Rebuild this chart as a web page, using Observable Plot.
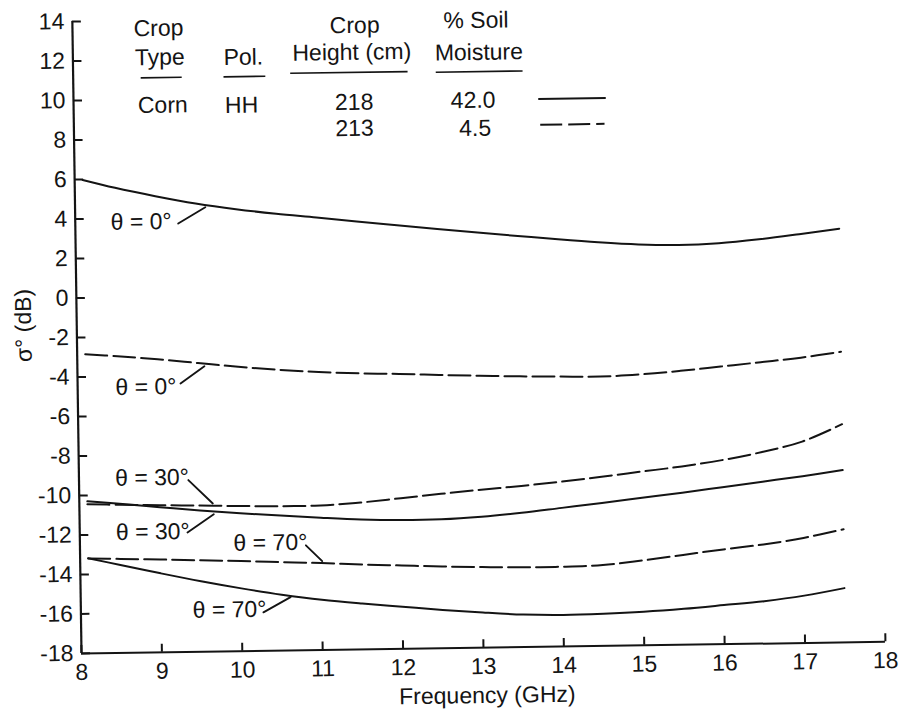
<!DOCTYPE html>
<html>
<head>
<meta charset="utf-8">
<script src="https://cdn.jsdelivr.net/npm/d3@7"></script>
<script src="https://cdn.jsdelivr.net/npm/@observablehq/plot@0.6"></script>
<style>
  html, body { margin: 0; padding: 0; background: #fff; }
  #chart svg { display: block; }
</style>
</head>
<body>
<div id="chart"></div>
<script>
// Backscatter of corn (HH polarization) versus frequency, for two soil moisture levels.
// Solid curves: 218 cm crop, 42.0 % soil moisture. Dashed curves: 213 cm crop, 4.5 % soil moisture.

const freqGHz = [8.1, 8.5, 9, 9.5, 10, 10.5, 11, 11.5, 12, 12.5, 13, 13.5, 14, 14.5, 15, 15.5, 16, 16.5, 17, 17.5];

// sigma-0 in dB, incidence angle 0°
const wet0 = [5.97, 5.55, 5.1, 4.7, 4.38, 4.12, 3.9, 3.67, 3.45, 3.23, 3.02, 2.82, 2.62, 2.44, 2.3, 2.24, 2.3, 2.47, 2.7, 2.95];
const dry0 = [-2.85, -2.98, -3.16, -3.38, -3.6, -3.78, -3.92, -4.02, -4.08, -4.16, -4.23, -4.29, -4.33, -4.36, -4.28, -4.13, -3.94, -3.75, -3.55, -3.28];
// incidence angle 30°
const wet30 = [-10.3, -10.45, -10.65, -10.85, -11.02, -11.16, -11.3, -11.42, -11.48, -11.47, -11.37, -11.2, -10.98, -10.76, -10.53, -10.3, -10.05, -9.8, -9.55, -9.27];
const dry30 = [-10.45, -10.5, -10.55, -10.6, -10.65, -10.69, -10.68, -10.56, -10.37, -10.18, -10.0, -9.84, -9.65, -9.43, -9.2, -8.97, -8.68, -8.3, -7.8, -6.95];
// incidence angle 70°
const wet70 = [-13.18, -13.55, -14.0, -14.43, -14.82, -15.17, -15.46, -15.68, -15.87, -16.06, -16.22, -16.35, -16.4, -16.37, -16.3, -16.18, -16.02, -15.85, -15.6, -15.25];
const dry70 = [-13.2, -13.24, -13.3, -13.37, -13.44, -13.52, -13.6, -13.7, -13.78, -13.86, -13.92, -13.96, -13.96, -13.9, -13.7, -13.45, -13.2, -12.98, -12.68, -12.27];

const xTicks = [8, 9, 10, 11, 12, 13, 14, 15, 16, 17, 18];
const yTicks = [14, 12, 10, 8, 6, 4, 2, 0, -2, -4, -6, -8, -10, -12, -14, -16, -18];

// Legend table contents
const cropType = "Corn";
const polarization = "HH";
const cropHeights = ["218", "213"];
const soilMoisture = ["42.0", "4.5"];

// Layout
const W = 902, H = 715;
const mL = 81, mR = 17, mT = 21, mB = 62;
const plotW = W - mL - mR, plotH = H - mT - mB;
const ink = "#141414";
const font = '"Liberation Sans", Arial, Helvetica, sans-serif';
const dash = "22,6";

const series = [
  {key: "wet0", values: wet0, dashed: false},
  {key: "dry0", values: dry0, dashed: true},
  {key: "wet30", values: wet30, dashed: false},
  {key: "dry30", values: dry30, dashed: true},
  {key: "wet70", values: wet70, dashed: false},
  {key: "dry70", values: dry70, dashed: true}
];
const rows = series.flatMap(s => freqGHz.map((f, i) => ({f, v: s.values[i], key: s.key, dashed: s.dashed})));

// Angle annotations: text (left edge, middle) and a curved arrow pointing at its curve
const angleNotes = [
  {text: "θ = 0°",  x: 8.44, y: 3.8,    x1: 9.28,  y1: 3.7,    x2: 9.62,  y2: 4.5,    bend: -22},
  {text: "θ = 0°",  x: 8.47, y: -4.56,  x1: 9.28,  y1: -4.4,   x2: 9.58,  y2: -3.55,  bend: -22},
  {text: "θ = 30°", x: 8.45, y: -9.16,  x1: 9.36,  y1: -9.3,   x2: 9.66,  y2: -10.5,  bend: 15},
  {text: "θ = 30°", x: 8.45, y: -11.9,  x1: 9.34,  y1: -11.95, x2: 9.67,  y2: -11.05, bend: -22},
  {text: "θ = 70°", x: 9.91, y: -12.54, x1: 10.81, y1: -12.69, x2: 11.01, y2: -13.5,  bend: 15},
  {text: "θ = 70°", x: 9.39, y: -15.9,  x1: 10.27, y1: -16.05, x2: 10.61, y2: -15.3,  bend: -22}
];

// Legend table placement (data coordinates inside the frame)
const legendText = [
  {t: "Crop", x: 9.07, y: 13.59}, {t: "Type", x: 9.08, y: 12.12}, {t: cropType, x: 9.11, y: 9.69},
  {t: "Pol.", x: 10.12, y: 12.06}, {t: polarization, x: 10.09, y: 9.63},
  {t: "Crop", x: 11.51, y: 13.59}, {t: "Height (cm)", x: 11.47, y: 12.23},
  {t: cropHeights[0], x: 11.49, y: 9.7}, {t: cropHeights[1], x: 11.49, y: 8.38},
  {t: "% Soil", x: 13.02, y: 13.76}, {t: "Moisture", x: 13.05, y: 12.14},
  {t: soilMoisture[0], x: 12.97, y: 9.71}, {t: soilMoisture[1], x: 12.99, y: 8.29}
];
const legendRules = [
  {x1: 8.84, x2: 9.35, y: 11.1}, {x1: 9.87, x2: 10.39, y: 11.09},
  {x1: 10.7, x2: 12.16, y: 11.22}, {x1: 12.51, x2: 13.59, y: 11.17}
];
const legendKeys = [
  {x1: 13.78, x2: 14.62, y: 9.74, dashed: false},
  {x1: 13.8, x2: 14.6, y: 8.43, dashed: true}
];

const chart = Plot.plot({
  width: W, height: H,
  marginLeft: mL, marginRight: mR, marginTop: mT, marginBottom: mB,
  x: {domain: [8, 18]},
  y: {domain: [-18, 14]},
  style: {fontFamily: font, fontSize: "23px", color: ink, background: "#fff"},
  marks: [
    // axes
    Plot.axisY(yTicks, {anchor: "left", tickSize: 0, tickPadding: 8, tickFormat: d => String(d), label: null, fontSize: 23}),
    Plot.axisX(xTicks, {anchor: "bottom", tickSize: 0, tickPadding: 10, tickFormat: d => String(d), label: null, fontSize: 23}),
    Plot.tickY(yTicks, {y: d => d, insetRight: plotW - 9, stroke: ink, strokeWidth: 2}),
    Plot.tickX(xTicks, {x: d => d, insetTop: plotH - 8, stroke: ink, strokeWidth: 2}),
    Plot.ruleX([8], {y1: -18, y2: 14, stroke: ink, strokeWidth: 2.2}),
    Plot.ruleY([-18], {x1: 8, x2: 18, stroke: ink, strokeWidth: 2}),
    Plot.text(["σ° (dB)"], {x: 8, y: -1.35, dx: -53, rotate: -90, text: d => d, fontSize: 23}),
    Plot.text(["Frequency (GHz)"], {x: 13.04, y: -18, dy: 48, text: d => d, fontSize: 23}),

    // curves
    Plot.line(rows.filter(d => !d.dashed), {x: "f", y: "v", z: "key", curve: "catmull-rom", stroke: ink, strokeWidth: 2}),
    Plot.line(rows.filter(d => d.dashed), {x: "f", y: "v", z: "key", curve: "catmull-rom", stroke: ink, strokeWidth: 2, strokeDasharray: dash}),

    // angle annotations
    Plot.text(angleNotes, {x: "x", y: "y", text: "text", textAnchor: "start", fontSize: 23}),
    Plot.arrow(angleNotes, {x1: "x1", y1: "y1", x2: "x2", y2: "y2", bend: d => d.bend, headLength: 10, headAngle: 40, stroke: ink, strokeWidth: 1.9}),

    // legend table
    Plot.text(legendText, {x: "x", y: "y", text: "t", textAnchor: "middle", fontSize: 23}),
    Plot.link(legendRules, {x1: "x1", x2: "x2", y1: "y", y2: "y", stroke: ink, strokeWidth: 1.6}),
    Plot.link(legendKeys.filter(d => !d.dashed), {x1: "x1", x2: "x2", y1: "y", y2: "y", stroke: ink, strokeWidth: 2}),
    Plot.link(legendKeys.filter(d => d.dashed), {x1: "x1", x2: "x2", y1: "y", y2: "y", stroke: ink, strokeWidth: 2, strokeDasharray: dash})
  ]
});

// the printed figure sits slightly tilted on its page
chart.style.transformOrigin = `${mL}px ${H - mB}px`;
chart.style.transform = "rotate(-0.83deg)";
document.getElementById("chart").appendChild(chart);
</script>
</body>
</html>
